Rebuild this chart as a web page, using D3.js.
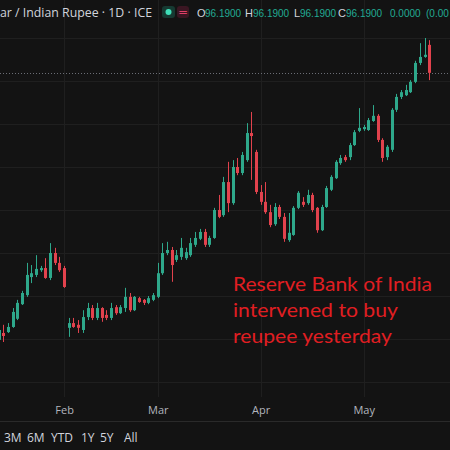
<!DOCTYPE html>
<html>
<head>
<meta charset="utf-8">
<script src="https://cdn.jsdelivr.net/npm/d3@7"></script>
<style>
body { margin: 0; background: #131313; }
svg { display: block; }
</style>
</head>
<body>
<svg id="chart" width="450" height="450"></svg>
<script>
// daily candles (USD/INR, ICE)
var opens = [89.98,90.14,90.16,90.28,90.47,90.81,91.02,91.44,91.49,91.60,
  91.65,91.42,92.00,91.77,91.65,90.26,90.37,90.33,90.21,90.51,
  90.72,90.49,90.72,90.56,90.49,90.74,90.60,90.72,90.98,90.67,
  90.95,90.91,90.84,90.91,90.98,91.53,92.00,92.07,91.84,91.91,
  91.88,91.95,92.19,92.33,92.49,92.19,92.35,93.00,92.88,93.65,
  93.16,94.00,93.86,94.16,94.79,94.35,93.42,93.19,92.95,92.67,
  93.07,92.84,92.30,92.42,93.05,93.19,93.16,93.35,93.05,92.53,
  93.07,93.47,93.74,94.09,94.23,94.23,94.51,94.84,94.88,94.86,
  95.07,95.19,94.63,94.23,94.40,95.33,95.63,95.67,95.74,95.98,
  96.42,96.56,96.84];
var highs = [90.40,90.33,90.37,90.72,90.91,91.12,91.77,91.72,91.95,91.70,
  91.88,92.23,92.12,91.91,91.70,90.49,90.49,90.44,90.67,90.84,
  90.79,90.84,90.74,90.67,90.84,90.79,90.79,91.19,91.07,91.00,
  90.98,90.93,91.00,91.07,91.77,92.23,92.26,92.14,92.07,92.35,
  92.12,92.35,92.49,92.56,92.56,92.40,93.05,93.35,93.77,94.12,
  94.16,94.21,94.35,95.02,95.28,94.40,93.58,93.65,93.12,93.16,
  93.12,92.93,92.93,93.09,93.44,93.30,93.47,93.40,93.07,93.12,
  93.56,93.81,94.16,94.28,94.28,94.56,94.86,95.37,94.98,95.14,
  95.44,95.23,94.67,94.51,95.37,95.70,95.79,95.91,96.02,96.47,
  96.88,97.00,96.95];
var lows = [89.91,89.93,90.14,90.26,90.44,90.79,90.98,91.30,91.44,91.56,
  91.40,91.37,91.72,91.56,91.19,90.05,90.26,90.14,90.14,90.44,
  90.44,90.44,90.40,90.44,90.44,90.56,90.58,90.63,90.63,90.65,
  90.84,90.79,90.81,90.88,90.95,91.49,91.95,91.33,91.79,91.84,
  91.84,91.91,92.14,92.30,92.14,92.14,92.33,92.81,92.84,92.95,
  93.12,93.81,93.81,94.12,93.70,93.37,93.12,92.91,92.60,92.63,
  92.79,92.26,92.26,92.40,93.02,93.07,93.12,92.95,92.47,92.51,
  93.05,93.44,93.72,94.05,94.12,94.16,94.49,94.81,94.84,94.84,
  95.05,94.58,94.12,94.16,94.35,95.28,95.58,95.65,95.72,95.95,
  96.37,96.54,96.02];
var closes = [90.21,90.07,90.28,90.63,90.84,91.07,91.49,91.53,91.63,91.65,
  91.42,92.00,91.77,91.60,91.21,90.37,90.28,90.26,90.51,90.72,
  90.49,90.72,90.49,90.49,90.72,90.60,90.74,90.98,90.67,90.98,
  90.86,90.84,90.95,91.02,91.53,92.00,92.07,91.72,91.95,92.12,
  92.02,92.23,92.35,92.49,92.19,92.35,93.00,92.84,93.65,93.16,
  94.00,93.86,94.28,94.79,94.72,93.42,93.19,92.95,92.65,93.07,
  92.84,92.33,92.47,93.05,93.40,93.12,93.35,93.00,92.53,93.07,
  93.51,93.77,94.12,94.21,94.16,94.51,94.81,94.91,94.93,95.09,
  95.19,94.63,94.21,94.47,95.33,95.63,95.74,95.79,95.98,96.42,
  96.56,96.61,96.19];

var monthLabels = ["Feb", "Mar", "Apr", "May"];
var monthIndex = [14, 34, 56, 78];   // first bar of each month
var priceGrid = [89, 90, 91, 92, 93, 94, 95, 96, 97];
var lastPrice = 96.19;

var title = "ar / Indian Rupee \u00b7 1D \u00b7 ICE";
var legendKeys = ["O", "H", "L", "C"];
var legendVals = ["96.1900", "96.1900", "96.1900", "96.1900"];
var change = ["0.0000", "(0.00"];
var note = ["Reserve Bank of India", "intervened to buy", "reupee yesterday"];
var ranges = ["3M", "6M", "YTD", "1Y", "5Y", "All"];

var upColor = "#2ea88b", downColor = "#e2424d";
var width = 450, paneBottom = 397;

var svg = d3.select("#chart");
var x = d3.scaleLinear().domain([0, closes.length - 1]).range([-1.4, 429.2]);
var y = d3.scaleLinear().domain([89, 97]).range([382, 38]);

var candles = closes.map(function(c, i) {
  return { i: i, o: opens[i], h: highs[i], l: lows[i], c: c };
});

// grid
svg.append("g").selectAll("line").data(priceGrid).join("line")
  .attr("x1", 0).attr("x2", width)
  .attr("y1", function(d) { return Math.round(y(d)) + 0.5; })
  .attr("y2", function(d) { return Math.round(y(d)) + 0.5; })
  .attr("stroke", "#1f1f1f");
svg.append("g").selectAll("line").data(monthIndex).join("line")
  .attr("x1", function(d) { return Math.round(x(d)) + 0.5; })
  .attr("x2", function(d) { return Math.round(x(d)) + 0.5; })
  .attr("y1", 0).attr("y2", paneBottom)
  .attr("stroke", "#1f1f1f");

// last price line
svg.append("line")
  .attr("x1", 0).attr("x2", width)
  .attr("y1", Math.round(y(lastPrice)) + 0.5).attr("y2", Math.round(y(lastPrice)) + 0.5)
  .attr("stroke", "#6a6d75").attr("stroke-dasharray", "1,2");

// candles
var g = svg.append("g");
g.selectAll(".wick").data(candles).join("line")
  .attr("class", "wick")
  .attr("x1", function(d) { return Math.round(x(d.i)) + 0.5; })
  .attr("x2", function(d) { return Math.round(x(d.i)) + 0.5; })
  .attr("y1", function(d) { return y(d.h); })
  .attr("y2", function(d) { return y(d.l); })
  .attr("stroke", function(d) { return d.c >= d.o ? upColor : downColor; });
g.selectAll(".body").data(candles).join("rect")
  .attr("class", "body")
  .attr("x", function(d) { return Math.round(x(d.i)) - 1; })
  .attr("width", 3)
  .attr("y", function(d) { return y(Math.max(d.o, d.c)); })
  .attr("height", function(d) { return Math.max(1, Math.abs(y(d.o) - y(d.c))); })
  .attr("fill", function(d) { return d.c >= d.o ? upColor : downColor; });

// time axis
var xAxis = d3.axisBottom(x).tickValues(monthIndex)
  .tickFormat(function(d, i) { return monthLabels[i]; })
  .tickSize(0).tickPadding(0);
var ax = svg.append("g").attr("transform", "translate(0,406)").call(xAxis);
ax.select(".domain").remove();
ax.selectAll("text").attr("fill", "#b2b5be").attr("font-size", 11)
  .attr("font-family", "Open Sans, sans-serif");

svg.append("line").attr("x1", 0).attr("x2", width).attr("y1", 421.5).attr("y2", 421.5)
  .attr("stroke", "#2a2a2a");

// range buttons
var rangeX = [4, 27, 51, 81, 100, 124];
svg.append("g").selectAll("text").data(ranges).join("text")
  .attr("x", function(d, i) { return rangeX[i]; })
  .attr("y", 442)
  .attr("fill", "#d1d4dc").attr("font-size", 12)
  .attr("font-family", "Open Sans, sans-serif")
  .text(function(d) { return d; });

// header legend
svg.append("text").attr("x", 0).attr("y", 17)
  .attr("fill", "#d1d4dc").attr("font-size", 13)
  .attr("font-family", "Open Sans, sans-serif")
  .attr("textLength", 152).attr("lengthAdjust", "spacingAndGlyphs")
  .text(title);
svg.append("rect").attr("x", 162).attr("y", 6).attr("width", 13).attr("height", 12).attr("rx", 3)
  .attr("fill", "#163a32");
svg.append("circle").attr("cx", 168.5).attr("cy", 12).attr("r", 3).attr("fill", "#3fe0b9");
svg.append("rect").attr("x", 177).attr("y", 6).attr("width", 12).attr("height", 12).attr("rx", 3)
  .attr("fill", "#3a1622");
svg.append("text").attr("x", 183).attr("y", 16).attr("text-anchor", "middle")
  .attr("fill", "#e0406a").attr("font-size", 12).attr("font-family", "DejaVu Sans, sans-serif")
  .text("=");

var keyX = [197, 245, 294, 338];
var valX = [205, 253, 300, 346];
var leg = svg.append("g").attr("font-family", "Liberation Sans, sans-serif");
leg.selectAll(".k").data(legendKeys).join("text").attr("class", "k")
  .attr("x", function(d, i) { return keyX[i]; }).attr("y", 17)
  .attr("font-size", 11)
  .attr("fill", "#d1d4dc").text(function(d) { return d; });
leg.selectAll(".v").data(legendVals).join("text").attr("class", "v")
  .attr("x", function(d, i) { return valX[i]; }).attr("y", 17)
  .attr("font-size", 10)
  .attr("fill", "#22ab94").text(function(d) { return d; });
leg.selectAll(".ch").data(change).join("text").attr("class", "ch")
  .attr("x", function(d, i) { return [390, 426][i]; }).attr("y", 17)
  .attr("font-size", 10)
  .attr("fill", "#22ab94").text(function(d) { return d; });

// annotation
var noteLen = [199, 165, 159];
svg.append("g").selectAll("text").data(note).join("text")
  .attr("x", 233)
  .attr("y", function(d, i) { return 291 + i * 26; })
  .attr("fill", "#e01e22").attr("font-size", 20)
  .attr("font-family", "Lato, sans-serif")
  .attr("textLength", function(d, i) { return noteLen[i]; })
  .attr("lengthAdjust", "spacingAndGlyphs")
  .text(function(d) { return d; });
</script>
</body>
</html>
